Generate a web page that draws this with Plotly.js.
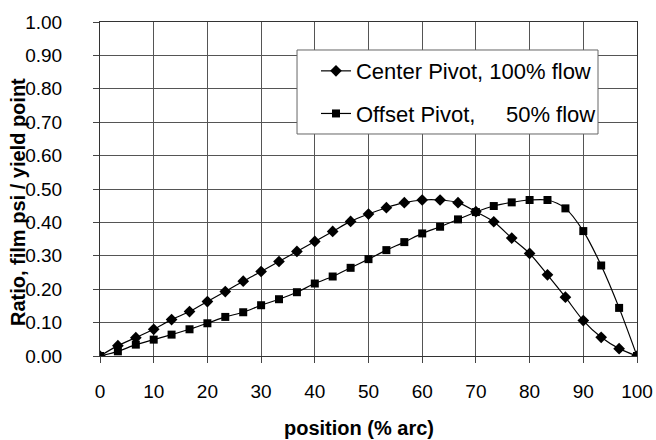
<!DOCTYPE html>
<html>
<head>
<meta charset="utf-8">
<script src="https://cdn.plot.ly/plotly-3.0.1.min.js"></script>
<style>html,body{margin:0;padding:0;background:#fff;}#chart{width:656px;height:440px;}</style>
</head>
<body>
<div id="chart"></div>
<script>
const positions = [0, 3.33, 6.67, 10, 13.33, 16.67, 20, 23.33, 26.67, 30, 33.33, 36.67, 40, 43.33, 46.67, 50,
  53.33, 56.67, 60, 63.33, 66.67, 70, 73.33, 76.67, 80, 83.33, 86.67, 90, 93.33, 96.67, 100];
const centerPivot = [0, 0.031, 0.055, 0.080, 0.109, 0.133, 0.163, 0.193, 0.224, 0.253, 0.283, 0.313, 0.343, 0.373, 0.403, 0.425,
  0.444, 0.459, 0.467, 0.467, 0.459, 0.432, 0.402, 0.353, 0.307, 0.243, 0.176, 0.106, 0.056, 0.022, 0];
const offsetPivot = [0, 0.014, 0.034, 0.049, 0.064, 0.080, 0.098, 0.117, 0.131, 0.152, 0.170, 0.191, 0.217, 0.238, 0.264, 0.290,
  0.317, 0.341, 0.367, 0.387, 0.409, 0.431, 0.449, 0.460, 0.467, 0.467, 0.442, 0.374, 0.271, 0.144, 0];
const seriesNames = ['Center Pivot, 100% flow', 'Offset Pivot,\u00a0\u00a0\u00a0\u00a0 50% flow'];
const xTitle = 'position (% arc)';
const yTitle = 'Ratio, film psi / yield point';

const font = 'Liberation Sans, Arial, sans-serif';
const traces = [
  {x: positions, y: centerPivot, name: seriesNames[0], type: 'scatter', mode: 'lines+markers',
   legendgroup: 'a',
   line: {color: '#000', width: 1.2, shape: 'spline', smoothing: 0.8},
   marker: {symbol: 'diamond', size: 9, color: '#000'}},
  {x: positions, y: offsetPivot, name: seriesNames[1], type: 'scatter', mode: 'lines+markers',
   legendgroup: 'b',
   line: {color: '#000', width: 1.2, shape: 'spline', smoothing: 0.8},
   marker: {symbol: 'square', size: 8, color: '#000'}}
];
const layout = {
  width: 656, height: 440,
  margin: {l: 100, r: 19, t: 22, b: 84},
  paper_bgcolor: '#fff', plot_bgcolor: '#fff',
  font: {family: font, color: '#000'},
  showlegend: true,
  legend: {x: 0.4022, y: 0.916, xanchor: 'left', yanchor: 'top',
    bgcolor: 'rgba(0,0,0,0)', borderwidth: 0,
    font: {size: 22, family: font, color: '#000'}, tracegroupgap: 11, traceorder: 'grouped'},
  shapes: [
    {type: 'rect', xref: 'paper', yref: 'paper', x0: 0.3669, x1: 0.9274, y0: 0.6647, y1: 0.9162,
     fillcolor: '#fff', line: {color: '#666', width: 1}, layer: 'above'}
  ],
  annotations: [
    {text: '<b>' + xTitle + '</b>', xref: 'paper', yref: 'paper', x: 0.482, y: -0.2156,
     xanchor: 'center', yanchor: 'middle', showarrow: false,
     font: {size: 20, family: font, color: '#000'}},
    {text: '<b>' + yTitle + '</b>', xref: 'paper', yref: 'paper', x: 0, xshift: -82, y: 0.461,
     xanchor: 'center', yanchor: 'middle', showarrow: false, textangle: -90,
     font: {size: 20, family: font, color: '#000'}}
  ],
  xaxis: {range: [0, 100], dtick: 10, tick0: 0, showgrid: true, gridcolor: '#555', gridwidth: 1,
    zeroline: false, showline: true, linecolor: '#333', linewidth: 1, mirror: true,
    ticks: 'outside', ticklen: 6, tickcolor: '#444', ticklabelstandoff: 12,
    tickfont: {size: 19, family: font, color: '#000'}},
  yaxis: {range: [0, 1], dtick: 0.1, tick0: 0, tickformat: '.2f', showgrid: true, gridcolor: '#555', gridwidth: 1,
    zeroline: false, showline: true, linecolor: '#333', linewidth: 1, mirror: true,
    ticks: 'outside', ticklen: 6, tickcolor: '#444', ticklabelstandoff: 27,
    tickfont: {size: 19, family: font, color: '#000'}}
};
Plotly.newPlot('chart', traces, layout, {displayModeBar: false, staticPlot: true});
</script>
</body>
</html>
